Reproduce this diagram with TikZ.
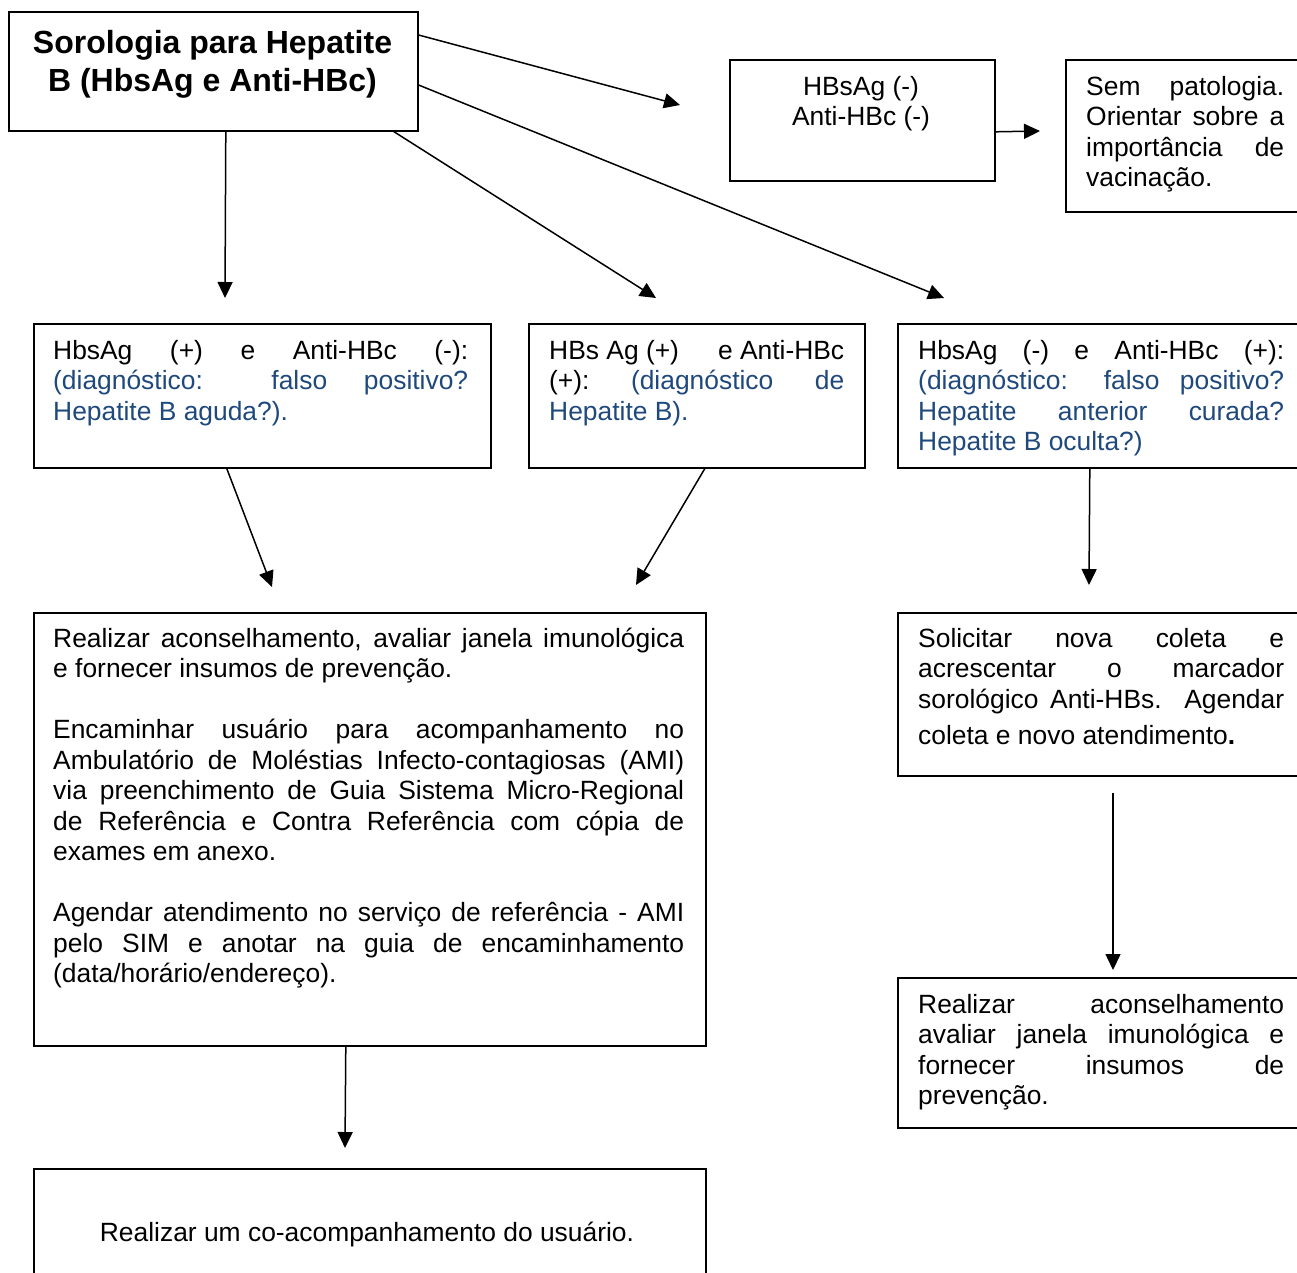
\documentclass[tikz,border=0pt]{standalone}
\usepackage{fontspec}
\setmainfont{Liberation Sans}
\usetikzlibrary{arrows.meta}
\definecolor{dblue}{HTML}{1F497D}
\newcommand{\jl}[1]{\makebox[\linewidth][s]{#1}}
\newcommand{\bodyfont}{\fontsize{26.4}{30.5}\selectfont}
\newcommand{\blu}[1]{\textcolor{dblue}{#1}}
\begin{document}
\begin{tikzpicture}[x=1pt,y=-1pt,
  box/.style={draw, line width=1.6pt, inner sep=0pt, anchor=north west},
  txt/.style={inner sep=0pt, anchor=base west, font=\bodyfont},
  arr/.style={line width=1.5pt, -{Triangle[length=16pt,width=15pt]}}]
\useasboundingbox (0,0) rectangle (1297,1272);
\clip (0,0) rectangle (1297,1272);
\fill[white] (0,0) rectangle (1297,1272);

% boxes
\node[box, minimum width=409pt, minimum height=119pt] (title) at (8,11) {};
\node[box, minimum width=265pt, minimum height=121pt] (neg) at (729,59) {};
\node[box, minimum width=250pt, minimum height=152pt] (sem) at (1065,59) {};
\node[box, minimum width=457pt, minimum height=144pt] (b1) at (33,323) {};
\node[box, minimum width=336pt, minimum height=144pt] (b2) at (528,323) {};
\node[box, minimum width=420pt, minimum height=144pt] (b3) at (897,323) {};
\node[box, minimum width=672pt, minimum height=433pt] (big) at (33,612) {};
\node[box, minimum width=420pt, minimum height=163pt] (sol) at (897,612) {};
\node[box, minimum width=420pt, minimum height=150pt] (rea) at (897,977) {};
\node[box, minimum width=672pt, minimum height=150pt] (bot) at (33,1168) {};

% texts
\node[txt, anchor=base, font=\bfseries\fontsize{32}{38}\selectfont] (ttitle) at (212.5,53)
  {\parbox[t]{400pt}{\centering Sorologia para Hepatite\\ B (HbsAg e Anti-HBc)}};
\node[txt, anchor=base] (tneg) at (861,95)
  {\parbox[t]{250pt}{\centering HBsAg (-)\\ Anti-HBc (-)}};
\node[txt] (tsem) at (1086,95)
  {\parbox[t]{198pt}{\jl{Sem patologia.}\\ \jl{Orientar sobre a}\\ \jl{importância de}\\ vacinação.}};
\node[txt] (tb1) at (53,359)
  {\parbox[t]{415pt}{\jl{HbsAg (+) e Anti-HBc (-):}\\ \blu{\jl{(diagnóstico: falso positivo?}}\\ \blu{Hepatite B aguda?).}}};
\node[txt] (tb2) at (549,359)
  {\parbox[t]{295pt}{\makebox[\linewidth]{HBs Ag (+)\hfill e Anti-HBc}\\ \jl{(+):\hfil\blu{(diagnóstico}\hfil\blu{de}}\\ \blu{Hepatite B).}}};
\node[txt] (tb3) at (918,359)
  {\parbox[t]{366pt}{\jl{HbsAg (-) e Anti-HBc (+):}\\ \blu{\jl{(diagnóstico: falso positivo?}}\\ \blu{\jl{Hepatite anterior curada?}}\\ \blu{Hepatite B oculta?)}}};
\node[txt] (tbig) at (53,647)
  {\parbox[t]{631pt}{\jl{Realizar aconselhamento, avaliar janela imunológica}\\
   e fornecer insumos de prevenção.\\[30.5pt]
   \jl{Encaminhar usuário para acompanhamento no}\\
   \jl{Ambulatório de Moléstias Infecto-contagiosas (AMI)}\\
   \jl{via preenchimento de Guia Sistema Micro-Regional}\\
   \jl{de Referência e Contra Referência com cópia de}\\
   exames em anexo.\\[30.5pt]
   \jl{Agendar atendimento no serviço de referência - AMI}\\
   \jl{pelo SIM e anotar na guia de encaminhamento}\\
   (data/horário/endereço).}};
\node[txt] (tsol) at (918,647)
  {\parbox[t]{366pt}{\jl{Solicitar nova coleta e}\\ \jl{acrescentar o marcador}\\ \jl{sorológico Anti-HBs. Agendar}\\[6pt] coleta e novo atendimento\textbf{.}}};
\node[txt] (trea) at (918,1013)
  {\parbox[t]{366pt}{\jl{Realizar aconselhamento}\\ \jl{avaliar janela imunológica e}\\ \jl{fornecer insumos de}\\ prevenção.}};
\node[txt, anchor=base] (tbot) at (367,1241)
  {Realizar um co-acompanhamento do usuário.};

% free arrow ends
\coordinate (e1) at (680,105);
\coordinate (e2) at (1040,131);
\coordinate (e3) at (225,298);
\coordinate (e4) at (656,298);
\coordinate (e5) at (944,298);
\coordinate (e6) at (272,587);
\coordinate (e7) at (636,585);
\coordinate (e8) at (1089,585);
\coordinate (e9) at (345,1148);
\coordinate (s10) at (1113,793);
\coordinate (e10) at (1113,970);

% connectors
\draw[arr] ([yshift=-24pt]title.north east) -- (e1);
\draw[arr] ([yshift=-11.5pt]neg.east) -- (e2);
\draw[arr] ([xshift=12.5pt]title.south) -- (e3);
\draw[arr] ([xshift=180.5pt]title.south) -- (e4);
\draw[arr] ([yshift=-74pt]title.north east) -- (e5);
\draw[arr] ([xshift=-35.5pt]b1.south) -- (e6);
\draw[arr] ([xshift=8pt]b2.south) -- (e7);
\draw[arr] ([xshift=-18pt]b3.south) -- (e8);
\draw[arr] ([xshift=-24pt]big.south) -- (e9);
\draw[arr] (s10) -- (e10);
\end{tikzpicture}
\end{document}
